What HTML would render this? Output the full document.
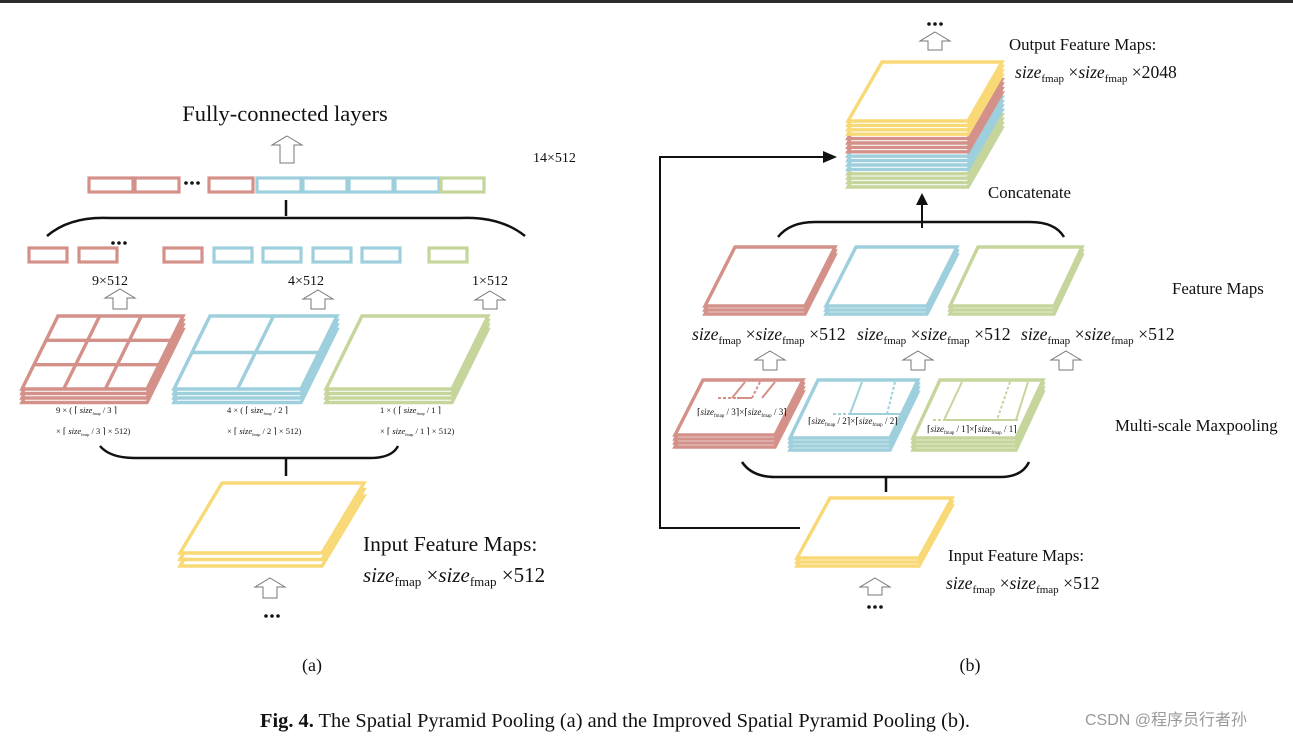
<!DOCTYPE html>
<html><head><meta charset="utf-8">
<style>
html,body{margin:0;padding:0;background:#fff;}
svg{display:block;}
text{font-family:"Liberation Serif",serif;fill:#111;}
</style></head>
<body>
<svg id="s" width="1293" height="737" xmlns="http://www.w3.org/2000/svg">
<rect x="0" y="0" width="1293" height="3" fill="#2b2b2b"/>
<g id="g"></g>
<!-- texts (a) -->
<text x="285" y="121" font-size="22.5" text-anchor="middle">Fully-connected layers</text>
<text x="533" y="162" font-size="14">14×512</text>
<text x="110" y="285" font-size="14" text-anchor="middle">9×512</text>
<text x="306" y="285" font-size="14" text-anchor="middle">4×512</text>
<text x="490" y="285" font-size="14" text-anchor="middle">1×512</text>
<g font-size="8.5">
<text x="56" y="413">9 × ( ⌈ <tspan font-style="italic">size</tspan><tspan font-size="4" dy="2">fmap</tspan><tspan dy="-2"> / 3 ⌉</tspan></text>
<text x="56" y="434">× ⌈ <tspan font-style="italic">size</tspan><tspan font-size="4" dy="2">fmap</tspan><tspan dy="-2"> / 3 ⌉ × 512)</tspan></text>
<text x="227" y="413">4 × ( ⌈ <tspan font-style="italic">size</tspan><tspan font-size="4" dy="2">fmap</tspan><tspan dy="-2"> / 2 ⌉</tspan></text>
<text x="227" y="434">× ⌈ <tspan font-style="italic">size</tspan><tspan font-size="4" dy="2">fmap</tspan><tspan dy="-2"> / 2 ⌉ × 512)</tspan></text>
<text x="380" y="413">1 × ( ⌈ <tspan font-style="italic">size</tspan><tspan font-size="4" dy="2">fmap</tspan><tspan dy="-2"> / 1 ⌉</tspan></text>
<text x="380" y="434">× ⌈ <tspan font-style="italic">size</tspan><tspan font-size="4" dy="2">fmap</tspan><tspan dy="-2"> / 1 ⌉ × 512)</tspan></text>
</g>
<text x="363" y="551" font-size="21.5">Input Feature Maps:</text>
<text x="363" y="582" font-size="21"><tspan font-style="italic">size</tspan><tspan font-size="13" dy="4">fmap</tspan><tspan dy="-4"> ×</tspan><tspan font-style="italic">size</tspan><tspan font-size="13" dy="4">fmap</tspan><tspan dy="-4"> ×512</tspan></text>
<text x="312" y="671" font-size="18" text-anchor="middle">(a)</text>
<!-- texts (b) -->
<text x="1009" y="50" font-size="16.8">Output Feature Maps:</text>
<text x="1015" y="78" font-size="17.6"><tspan font-style="italic">size</tspan><tspan font-size="11" dy="4">fmap</tspan><tspan dy="-4"> ×</tspan><tspan font-style="italic">size</tspan><tspan font-size="11" dy="4">fmap</tspan><tspan dy="-4"> ×2048</tspan></text>
<text x="988" y="198" font-size="16.8">Concatenate</text>
<text x="1172" y="294" font-size="16.8">Feature Maps</text>
<text x="1115" y="431" font-size="16.8">Multi-scale Maxpooling</text>
<g font-size="17.7">
<text x="692" y="340"><tspan font-style="italic">size</tspan><tspan font-size="11" dy="4">fmap</tspan><tspan dy="-4"> ×</tspan><tspan font-style="italic">size</tspan><tspan font-size="11" dy="4">fmap</tspan><tspan dy="-4"> ×512</tspan></text>
<text x="857" y="340"><tspan font-style="italic">size</tspan><tspan font-size="11" dy="4">fmap</tspan><tspan dy="-4"> ×</tspan><tspan font-style="italic">size</tspan><tspan font-size="11" dy="4">fmap</tspan><tspan dy="-4"> ×512</tspan></text>
<text x="1021" y="340"><tspan font-style="italic">size</tspan><tspan font-size="11" dy="4">fmap</tspan><tspan dy="-4"> ×</tspan><tspan font-style="italic">size</tspan><tspan font-size="11" dy="4">fmap</tspan><tspan dy="-4"> ×512</tspan></text>
</g>
<g font-size="9">
<text x="697" y="415">⌈<tspan font-style="italic">size</tspan><tspan font-size="5" dy="2">fmap</tspan><tspan dy="-2"> / 3⌉×⌈</tspan><tspan font-style="italic">size</tspan><tspan font-size="5" dy="2">fmap</tspan><tspan dy="-2"> / 3⌉</tspan></text>
<text x="808" y="424">⌈<tspan font-style="italic">size</tspan><tspan font-size="5" dy="2">fmap</tspan><tspan dy="-2"> / 2⌉×⌈</tspan><tspan font-style="italic">size</tspan><tspan font-size="5" dy="2">fmap</tspan><tspan dy="-2"> / 2⌉</tspan></text>
<text x="927" y="432">⌈<tspan font-style="italic">size</tspan><tspan font-size="5" dy="2">fmap</tspan><tspan dy="-2"> / 1⌉×⌈</tspan><tspan font-style="italic">size</tspan><tspan font-size="5" dy="2">fmap</tspan><tspan dy="-2"> / 1⌉</tspan></text>
</g>
<text x="948" y="561" font-size="16.8">Input Feature Maps:</text>
<text x="946" y="589" font-size="17.7"><tspan font-style="italic">size</tspan><tspan font-size="11" dy="4">fmap</tspan><tspan dy="-4"> ×</tspan><tspan font-style="italic">size</tspan><tspan font-size="11" dy="4">fmap</tspan><tspan dy="-4"> ×512</tspan></text>
<text x="970" y="671" font-size="18" text-anchor="middle">(b)</text>
<text x="260" y="727" font-size="20" textLength="710" lengthAdjust="spacingAndGlyphs"><tspan font-weight="bold">Fig. 4.</tspan> The Spatial Pyramid Pooling (a) and the Improved Spatial Pyramid Pooling (b).</text>
<text x="1085" y="725" font-size="16" style="font-family:'Liberation Sans','Noto Sans CJK SC',sans-serif;fill:#9a9a9a">CSDN @程序员行者孙</text>
</svg>
<script>
var R="#d4918a",B="#9ecfdc",G="#c6d59b",Y="#f9d976";
var g=document.getElementById('g'),h='';
function poly(pts,c,w,f){h+='<polygon points="'+pts.map(p=>p.join(',')).join(' ')+'" fill="'+(f||'#fff')+'" stroke="'+c+'" stroke-width="'+(w||3)+'" stroke-linejoin="miter"/>';}
function line(x1,y1,x2,y2,c,w,d){h+='<line x1="'+x1+'" y1="'+y1+'" x2="'+x2+'" y2="'+y2+'" stroke="'+c+'" stroke-width="'+(w||3)+'"'+(d?' stroke-dasharray="'+d+'"':'')+'/>';}
function stack(tx,ty,w,hh,bx,cols,gap){
  for(var i=cols.length-1;i>=0;i--){var o=i*gap;
    poly([[tx,ty+o],[tx+w,ty+o],[bx+w,ty+hh+o],[bx,ty+hh+o]],cols[i],3.4);}
}
function arrow(cx,y,hh){var hw=15,sw=7,hd=9;
  h+='<polygon points="'+[[cx,y],[cx+hw,y+hd],[cx+sw,y+hd],[cx+sw,y+hh],[cx-sw,y+hh],[cx-sw,y+hd],[cx-hw,y+hd]].map(p=>p.join(',')).join(' ')+'" fill="#fff" stroke="#777" stroke-width="1"/>';}
function box(x,y,w,c){h+='<rect x="'+x+'" y="'+y+'" width="'+w+'" height="14" fill="#fff" stroke="'+c+'" stroke-width="3.2"/>';}
function dots(x,y){for(var i=0;i<3;i++)h+='<circle cx="'+(x+i*6)+'" cy="'+y+'" r="1.8" fill="#111"/>';}
[[89,R],[135,R],[209,R],[257,B],[303,B],[349,B],[395,B]].forEach(b=>box(b[0],178,44,b[1]));
box(441,178,43,G); dots(186,183);
arrow(287,136,27);
line(286,200,286,216,"#111",2.5);
h+='<path d="M47,236 Q70,216 110,218 L460,218 Q500,216 525,236" fill="none" stroke="#111" stroke-width="2.5"/>';
[[29,R],[79,R],[164,R],[214,B],[263,B],[313,B],[362,B]].forEach(b=>box(b[0],248,38,b[1]));
box(429,248,38,G); dots(113,243);
arrow(120,289,20); arrow(318,290,19); arrow(490,291,18);
stack(58,316,125,73,22,[R,R,R,R],4.5);
for(var k=1;k<3;k++){var yy=316+73*k/3,xl=58-(36*k/3);line(xl,yy,xl+125,yy,R,3.4);
 var xt=58+125*k/3;line(xt,316,xt-36,389,R,3.4);}
stack(210,316,127,73,174,[B,B,B,B],4.5);
line(192,352.5,319,352.5,B,3.4); line(273.5,316,237.5,389,B,3.4);
stack(362,316,126,73,326,[G,G,G,G],4.5);
h+='<path d="M100,446 Q110,458 135,458 L370,458 Q392,458 398,446" fill="none" stroke="#111" stroke-width="2.5"/>';
line(286,458,286,476,"#111",2.5);
stack(222,483,142,70,180,[Y,Y,Y],6.5);
arrow(270,578,20); dots(266,616);
dots(929,24); arrow(935,32,18);
var cols=[Y,Y,Y,Y,R,R,R,R,B,B,B,B,G,G,G,G];
stack(882,62,120,59,848,cols,4.4);
line(660,157,660,528,"#111",2); line(659,528,800,528,"#111",2);
line(659,157,826,157,"#111",2);
h+='<polygon points="837,157 823,151 823,163" fill="#111"/>';
line(922,228,922,203,"#111",2);
h+='<polygon points="922,193 916,205 928,205" fill="#111"/>';
h+='<path d="M778,237 Q790,222 815,222 L1030,222 Q1055,222 1064,237" fill="none" stroke="#111" stroke-width="2.5"/>';
stack(735,247,100,59,705,[R,R,R],4);
stack(856,247,101,59,826,[B,B,B],4);
stack(978,247,104,59,950,[G,G,G],4);
arrow(770,351,19); arrow(918,351,19); arrow(1066,351,19);
stack(703,380,100,55,675,[R,R,R,R],4);
line(718,398,737,398,R,2,"3,2"); line(737,398,752,398,R,2);
line(745,382,732,398,R,2); line(775,382,762,398,R,2); line(760,382,752,398,R,2,"3,2");
stack(818,380,100,58,790,[B,B,B,B],4);
line(833,414,850,414,B,2,"3,2"); line(850,414,900,414,B,2);
line(862,382,850,414,B,2); line(918,382,906,414,B,2); line(895,382,887,414,B,2,"3,2");
stack(940,380,103,58,913,[G,G,G,G],4);
line(933,420,946,420,G,2,"3,2"); line(946,420,1018,420,G,2);
line(962,382,944,420,G,2); line(1028,382,1016,420,G,2); line(1010,382,997,420,G,2,"3,2");
h+='<path d="M742,462 Q752,477 775,477 L1000,477 Q1022,477 1029,462" fill="none" stroke="#111" stroke-width="2.5"/>';
line(886,477,886,492,"#111",2.5);
stack(830,498,122,60,797,[Y,Y,Y],4);
arrow(875,578,17); dots(869,607);
g.innerHTML=h;
</script>
</body></html>
